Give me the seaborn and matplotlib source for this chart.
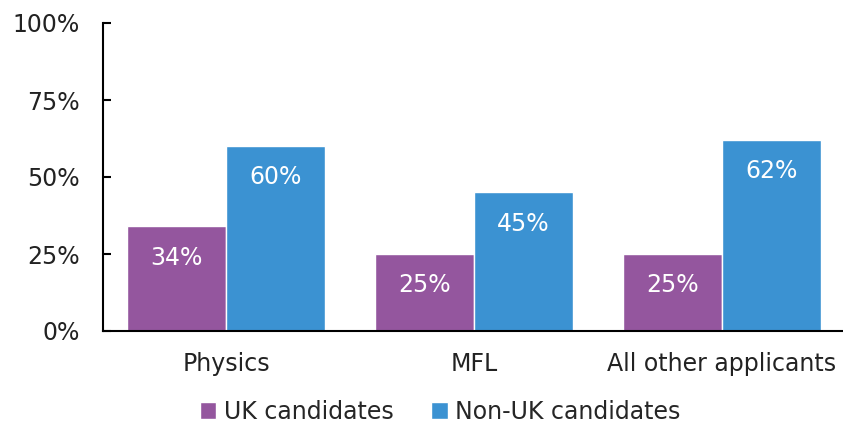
import pandas as pd
import matplotlib
matplotlib.use('Agg')
import matplotlib.pyplot as plt
import seaborn as sns
from matplotlib.patches import Patch

categories = ['Physics', 'MFL', 'All other applicants']
groups = ['UK candidates', 'Non-UK candidates']
uk_values = [0.34, 0.25, 0.25]
non_uk_values = [0.60, 0.45, 0.62]
colors = ['#94569E', '#3B92D2']
y_ticks = [0, 0.25, 0.5, 0.75, 1.0]
y_tick_labels = ['0%', '25%', '50%', '75%', '100%']

df = pd.DataFrame({
    'Subject': categories * 2,
    'Group': [groups[0]] * 3 + [groups[1]] * 3,
    'Share': uk_values + non_uk_values,
})

sns.set_style('white')
plt.rcParams['font.family'] = ['DejaVu Sans']

fig = plt.figure(figsize=(8.43, 4.25), dpi=100)
ax = fig.add_axes([103 / 843, 1 - 331 / 425, 740 / 843, 308 / 425])

sns.barplot(data=df, x='Subject', y='Share', hue='Group', palette=colors,
            width=0.8, saturation=1, ax=ax, legend=False)

# white value labels just below the top of each bar
for bars in ax.containers:
    for bar in bars:
        h = bar.get_height()
        ax.annotate(f'{h * 100:.0f}%', (bar.get_x() + bar.get_width() / 2, h),
                    xytext=(0, -22.5), textcoords='offset points',
                    ha='center', va='center', color='white', fontsize=17,
                    fontweight='medium')

ax.set_ylim(0, 1)
ax.set_xlim(-0.496, 2.488)
ax.set_yticks(y_ticks)
ax.set_yticklabels(y_tick_labels)
ax.set_xlabel('')
ax.set_ylabel('')
ax.tick_params(axis='y', left=True, direction='in', length=6, width=1.5,
               labelsize=17, pad=17, colors='black')
ax.tick_params(axis='x', bottom=False, length=0, labelsize=17, pad=15)
for lbl in ax.get_yticklabels() + ax.get_xticklabels():
    lbl.set_color('#222222')

sns.despine(ax=ax)
for side in ['left', 'bottom']:
    ax.spines[side].set_color('black')
    ax.spines[side].set_linewidth(1.5)

handles = [Patch(facecolor=c, label=g) for c, g in zip(colors, groups)]
fig.legend(handles=handles, loc='center', bbox_to_anchor=(440 / 843, 13 / 425),
           ncol=2, frameon=False, fontsize=17, handlelength=0.7, handleheight=0.7,
           handletextpad=0.3, columnspacing=1.6, borderpad=0.1)

fig.savefig('out.png', dpi=100)
